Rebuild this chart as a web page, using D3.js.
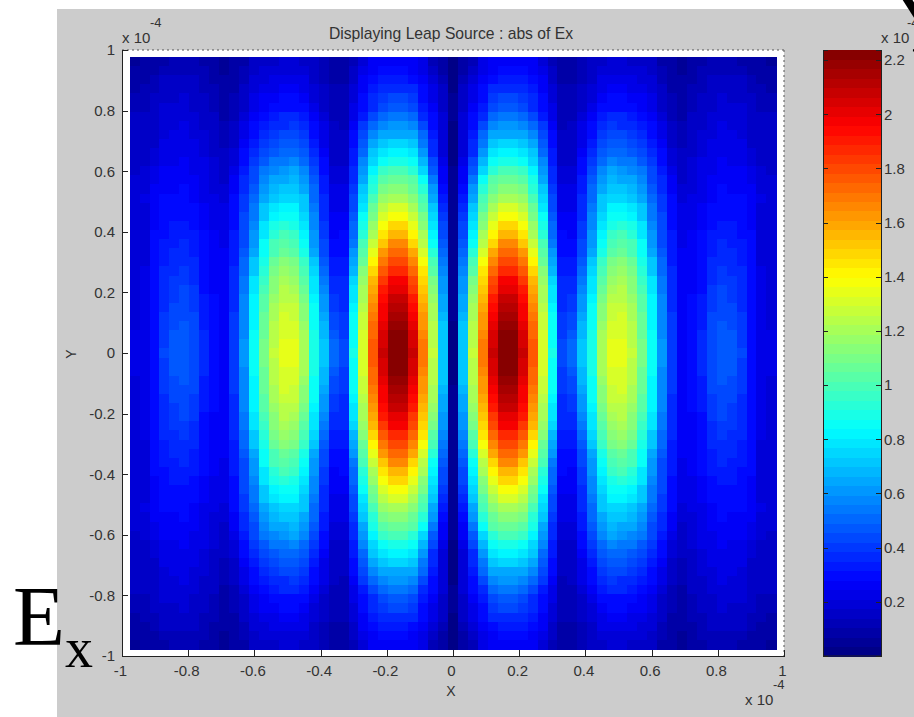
<!DOCTYPE html>
<html>
<head>
<meta charset="utf-8">
<script src="https://d3js.org/d3.v7.js"></script>
<style>
    html, body { margin: 0; padding: 0; background: #fff; overflow: hidden; }
    text { font-family: "Liberation Sans", sans-serif; fill: #333; }
    .big { font-family: "Liberation Serif", serif; fill: #000; }
    .cell { shape-rendering: crispEdges; }
    .axis text { font-size: 15px; }
    .axis path, .axis line { stroke: #222; shape-rendering: crispEdges; }
</style>
</head>
<body>
<script>
// abs(Ex), top-left quarter only (top row first, left column first).
// the field looks mirrored left/right and up/down, so the other quarters reuse these rows
const exQuarter = [
[.06,.07,.09,.10,.11,.12,.12,.10,.08,.05,.07,.10,.14,.16,.17,.18,.18,.17,.14,.11,.09,.09,.13,.20,.25,.26,.26,.26,.25,.21,.13,.08,.02],
[.07,.08,.10,.12,.12,.13,.13,.11,.09,.06,.08,.11,.16,.18,.19,.20,.20,.19,.16,.12,.10,.10,.15,.22,.27,.28,.28,.28,.27,.23,.15,.09,.02],
[.09,.09,.11,.14,.14,.15,.14,.12,.10,.07,.09,.12,.18,.20,.22,.23,.23,.22,.17,.13,.10,.10,.17,.25,.30,.33,.33,.33,.31,.26,.18,.12,.03],
[.10,.11,.13,.15,.16,.17,.15,.13,.11,.08,.10,.14,.19,.23,.24,.26,.26,.24,.19,.15,.11,.11,.19,.26,.33,.37,.38,.38,.36,.28,.21,.14,.03],
[.12,.12,.14,.17,.17,.18,.16,.14,.12,.09,.11,.15,.21,.25,.26,.28,.28,.27,.20,.16,.12,.12,.20,.28,.35,.40,.42,.42,.40,.30,.23,.15,.04],
[.13,.13,.15,.18,.18,.19,.17,.15,.13,.09,.12,.16,.22,.27,.28,.31,.31,.29,.22,.17,.12,.12,.22,.30,.38,.44,.48,.48,.44,.33,.26,.17,.04],
[.14,.14,.16,.19,.19,.20,.18,.16,.14,.10,.13,.18,.25,.30,.32,.35,.35,.32,.25,.19,.13,.13,.24,.34,.44,.50,.53,.53,.50,.38,.29,.18,.04],
[.14,.14,.16,.20,.20,.21,.19,.17,.15,.11,.14,.21,.28,.34,.37,.38,.40,.36,.28,.21,.14,.13,.26,.39,.52,.58,.62,.62,.58,.44,.31,.18,.03],
[.14,.15,.17,.20,.21,.22,.20,.18,.15,.12,.16,.23,.31,.37,.41,.43,.44,.40,.30,.23,.15,.14,.28,.44,.58,.64,.66,.66,.64,.50,.33,.19,.03],
[.15,.15,.17,.21,.22,.23,.21,.19,.16,.13,.17,.25,.33,.40,.45,.47,.48,.44,.33,.24,.15,.15,.30,.48,.64,.71,.74,.74,.71,.55,.35,.20,.03],
[.15,.16,.18,.22,.23,.24,.22,.20,.17,.14,.18,.28,.36,.43,.48,.50,.52,.48,.36,.26,.16,.15,.32,.52,.70,.78,.82,.82,.78,.60,.37,.20,.02],
[.16,.17,.20,.23,.24,.25,.23,.21,.18,.15,.20,.30,.39,.48,.53,.55,.57,.52,.39,.28,.17,.16,.34,.56,.76,.86,.89,.89,.85,.68,.42,.22,.03],
[.17,.18,.22,.25,.25,.26,.24,.22,.19,.16,.23,.33,.42,.53,.58,.62,.63,.57,.43,.30,.19,.18,.36,.60,.82,.95,.99,.99,.94,.76,.48,.25,.04],
[.18,.19,.23,.26,.26,.27,.25,.23,.20,.17,.25,.35,.45,.58,.63,.66,.68,.62,.46,.32,.20,.19,.38,.65,.88,1.03,1.07,1.07,1.02,.84,.55,.27,.05],
[.18,.20,.25,.27,.27,.28,.26,.24,.20,.19,.27,.37,.47,.62,.68,.70,.72,.66,.49,.34,.22,.21,.40,.70,.94,1.09,1.13,1.13,1.08,.91,.60,.31,.05],
[.19,.21,.26,.28,.28,.29,.27,.24,.21,.20,.30,.40,.50,.65,.72,.76,.76,.70,.52,.36,.23,.22,.42,.74,.99,1.16,1.22,1.22,1.15,.98,.66,.34,.06],
[.18,.20,.26,.29,.29,.30,.28,.25,.22,.21,.30,.41,.53,.70,.77,.83,.81,.73,.54,.37,.24,.23,.44,.79,1.05,1.24,1.31,1.31,1.22,1.04,.70,.37,.06],
[.18,.20,.27,.30,.31,.31,.29,.26,.23,.22,.31,.42,.55,.73,.82,.87,.85,.76,.56,.38,.25,.25,.47,.84,1.11,1.31,1.39,1.39,1.29,1.10,.74,.40,.06],
[.18,.20,.27,.31,.32,.33,.31,.27,.24,.23,.31,.43,.58,.77,.88,.93,.90,.79,.58,.40,.26,.27,.50,.88,1.17,1.39,1.48,1.48,1.36,1.15,.78,.43,.06],
[.18,.20,.28,.31,.33,.34,.32,.28,.25,.24,.32,.44,.60,.80,.93,.98,.95,.83,.60,.41,.27,.28,.52,.93,1.22,1.46,1.57,1.57,1.43,1.20,.81,.45,.06],
[.18,.20,.28,.32,.34,.35,.33,.29,.26,.24,.32,.45,.62,.84,.98,1.03,1.00,.86,.62,.42,.28,.30,.55,.98,1.27,1.53,1.65,1.65,1.50,1.25,.85,.48,.06],
[.18,.20,.28,.33,.35,.36,.34,.29,.26,.25,.33,.47,.66,.87,1.01,1.07,1.04,.90,.66,.45,.30,.31,.60,1.02,1.34,1.61,1.73,1.73,1.58,1.30,.91,.51,.06],
[.18,.20,.28,.34,.36,.38,.35,.30,.26,.25,.34,.49,.70,.90,1.05,1.12,1.09,.95,.70,.48,.32,.33,.65,1.08,1.42,1.69,1.80,1.80,1.66,1.38,.98,.54,.06],
[.19,.21,.28,.35,.38,.39,.36,.30,.27,.25,.35,.51,.73,.93,1.09,1.16,1.14,.98,.74,.51,.34,.34,.69,1.12,1.48,1.77,1.87,1.87,1.73,1.44,1.04,.57,.05],
[.19,.21,.28,.36,.39,.40,.38,.31,.27,.26,.36,.53,.77,.97,1.12,1.21,1.18,1.02,.77,.54,.36,.35,.74,1.16,1.54,1.84,1.97,1.97,1.79,1.48,1.10,.60,.05],
[.19,.21,.28,.37,.40,.42,.39,.31,.27,.26,.37,.55,.80,1.00,1.15,1.23,1.22,1.06,.80,.57,.37,.36,.78,1.20,1.60,1.90,2.02,2.02,1.85,1.52,1.15,.62,.05],
[.19,.21,.28,.38,.41,.43,.40,.32,.28,.26,.38,.56,.81,1.02,1.17,1.25,1.24,1.09,.82,.60,.39,.37,.80,1.22,1.64,1.93,2.07,2.07,1.89,1.55,1.17,.64,.05],
[.20,.21,.29,.38,.42,.44,.41,.33,.28,.26,.38,.57,.82,1.04,1.20,1.27,1.26,1.12,.84,.62,.41,.38,.82,1.25,1.67,1.96,2.12,2.12,1.93,1.58,1.20,.66,.04],
[.20,.22,.29,.39,.44,.45,.42,.33,.29,.27,.39,.58,.82,1.06,1.22,1.30,1.28,1.15,.85,.65,.43,.39,.84,1.27,1.70,1.99,2.15,2.15,1.97,1.61,1.22,.68,.04],
[.20,.22,.30,.40,.45,.46,.43,.34,.29,.27,.40,.59,.83,1.07,1.23,1.31,1.30,1.17,.87,.67,.45,.40,.85,1.29,1.72,2.02,2.19,2.19,2.01,1.64,1.23,.70,.03],
[.21,.22,.30,.41,.46,.47,.43,.35,.30,.27,.40,.59,.84,1.08,1.24,1.32,1.32,1.19,.88,.69,.47,.41,.86,1.30,1.74,2.04,2.23,2.23,2.04,1.67,1.24,.71,.03],
[.21,.23,.31,.41,.47,.48,.44,.35,.30,.27,.41,.60,.84,1.09,1.25,1.33,1.33,1.20,.89,.71,.49,.42,.87,1.31,1.75,2.06,2.23,2.23,2.06,1.69,1.25,.72,.03],
[.21,.23,.31,.42,.48,.48,.44,.36,.30,.27,.41,.60,.84,1.10,1.26,1.33,1.33,1.21,.90,.72,.50,.42,.88,1.32,1.76,2.07,2.23,2.23,2.07,1.70,1.26,.72,.03]
]

const axisTicks = [-1, -0.8, -0.6, -0.4, -0.2, 0, 0.2, 0.4, 0.6, 0.8, 1]
const colorTicks = [0.2, 0.4, 0.6, 0.8, 1, 1.2, 1.4, 1.6, 1.8, 2, 2.2]
const cellExtent = 0.977   // the cells stop a little short of the axes
const colorMax = 2.237

const w = 914
const h = 717

// rebuild the 65x65 grid from the quarter
const mirrorRow = r => r.concat(r.slice(0, -1).reverse())
const topHalf = exQuarter.map(mirrorRow)
const grid = topHalf.concat(topHalf.slice(0, -1).reverse())

// matlab jet, 64 levels
const clamp = v => Math.max(0, Math.min(1, v))
const jet = t => d3.rgb(
    255 * clamp(Math.min(4 * t - 1.5, 4.5 - 4 * t)),
    255 * clamp(Math.min(4 * t - 0.5, 3.5 - 4 * t)),
    255 * clamp(Math.min(4 * t + 0.5, 2.5 - 4 * t))
).formatHex()
const levels = d3.range(64)
const colour = d3.scaleQuantize()
    .domain([0, colorMax])
    .range(levels.map(i => jet((i + 0.5) / 64)))

const svg = d3.select('body')
    .append('svg')
    .attr('width', w)
    .attr('height', h)
    .style('display', 'block')

svg.append('rect')
    .attr('x', 57).attr('y', 9)
    .attr('width', w - 57).attr('height', h - 9)
    .attr('fill', '#cccccc')

const xScale = d3.scaleLinear().domain([-1, 1]).range([122, 784])
const yScale = d3.scaleLinear().domain([-1, 1]).range([656, 50])

svg.append('rect')
    .attr('x', xScale(-1)).attr('y', yScale(1))
    .attr('width', xScale(1) - xScale(-1))
    .attr('height', yScale(-1) - yScale(1))
    .attr('fill', '#fff')

// heat map
const step = 2 * cellExtent / grid.length
const cells = grid.flatMap((row, r) => row.map((v, c) => ({ r, c, v })))
svg.append('g').selectAll('rect')
    .data(cells)
    .enter()
    .append('rect')
    .attr('class', 'cell')
    .attr('x', d => xScale(-cellExtent + d.c * step))
    .attr('y', d => yScale(cellExtent - d.r * step))
    .attr('width', xScale(step) - xScale(0) + 0.5)
    .attr('height', yScale(0) - yScale(step) + 0.5)
    .attr('fill', d => colour(d.v))

// dotted top and right edges
svg.append('line')
    .attr('x1', xScale(-1)).attr('x2', xScale(1))
    .attr('y1', yScale(1)).attr('y2', yScale(1))
    .attr('stroke', '#555').attr('stroke-dasharray', '2 3')
svg.append('line')
    .attr('x1', xScale(1)).attr('x2', xScale(1))
    .attr('y1', yScale(1)).attr('y2', yScale(-1))
    .attr('stroke', '#555').attr('stroke-dasharray', '2 3')

const fmt = d => String(d)

const xAxis = d3.axisBottom(xScale)
    .tickValues(axisTicks)
    .tickSize(-6)
    .tickPadding(9)
    .tickFormat(fmt)
const gx = svg.append('g')
    .attr('class', 'axis')
    .attr('transform', 'translate(0,' + yScale(-1) + ')')
    .call(xAxis)
gx.selectAll('text').attr('dx', -2)

const yAxis = d3.axisLeft(yScale)
    .tickValues(axisTicks)
    .tickSize(-6)
    .tickPadding(7)
    .tickFormat(fmt)
svg.append('g')
    .attr('class', 'axis')
    .attr('transform', 'translate(' + xScale(-1) + ',0)')
    .call(yAxis)

// colour bar
const barLeft = 823
const barRight = 881
const barScale = d3.scaleLinear().domain([0, colorMax]).range([656, 50])
const levelScale = d3.scaleLinear().domain([0, 64]).range([656, 50])

svg.append('g').selectAll('rect')
    .data(levels)
    .enter()
    .append('rect')
    .attr('class', 'cell')
    .attr('x', barLeft)
    .attr('y', d => levelScale(d + 1))
    .attr('width', barRight - barLeft)
    .attr('height', d => levelScale(d) - levelScale(d + 1) + 0.5)
    .attr('fill', d => colour.range()[d])

svg.append('g')
    .attr('class', 'axis')
    .attr('transform', 'translate(' + barLeft + ',0)')
    .call(d3.axisLeft(barScale).tickValues(colorTicks).tickSize(-5).tickFormat(''))

const barAxis = svg.append('g')
    .attr('class', 'axis')
    .attr('transform', 'translate(' + barRight + ',0)')
    .call(d3.axisRight(barScale).tickValues(colorTicks).tickSize(-5).tickPadding(3).tickFormat(fmt))
barAxis.select('.domain').attr('stroke', '#889')

svg.append('line')
    .attr('x1', barLeft).attr('x2', barRight)
    .attr('y1', 656).attr('y2', 656)
    .attr('stroke', '#222')

// titles
svg.append('text')
    .attr('x', 451).attr('y', 39)
    .attr('text-anchor', 'middle')
    .style('font-size', '15.7px')
    .text('Displaying Leap Source : abs of Ex')

svg.append('text')
    .attr('x', 451).attr('y', 696)
    .attr('text-anchor', 'middle')
    .style('font-size', '14px')
    .text('X')

svg.append('text')
    .attr('transform', 'translate(76,354) rotate(-90)')
    .attr('text-anchor', 'middle')
    .style('font-size', '14px')
    .text('Y')

// exponent labels
const exponents = [
    { x: 122, y: 43, sx: 150, sy: 27, e: '-4' },
    { x: 745, y: 705, sx: 773, sy: 689, e: '-4' },
    { x: 881, y: 43, sx: 907, sy: 27, e: '-4' }
]
exponents.forEach(d => {
    svg.append('text').attr('x', d.x).attr('y', d.y).style('font-size', '15px').text('x 10')
    svg.append('text').attr('x', d.sx).attr('y', d.sy).style('font-size', '13px').text(d.e)
})

// big pasted-on letters
svg.append('text').attr('class', 'big')
    .attr('x', 13).attr('y', 645)
    .style('font-size', '85px')
    .text('E')
svg.append('text').attr('class', 'big')
    .attr('x', 65).attr('y', 667)
    .style('font-size', '56px')
    .text('x')
svg.append('text').attr('class', 'big')
    .attr('x', 895).attr('y', 52)
    .style('font-size', '85px')
    .text('Y')
</script>
</body>
</html>
